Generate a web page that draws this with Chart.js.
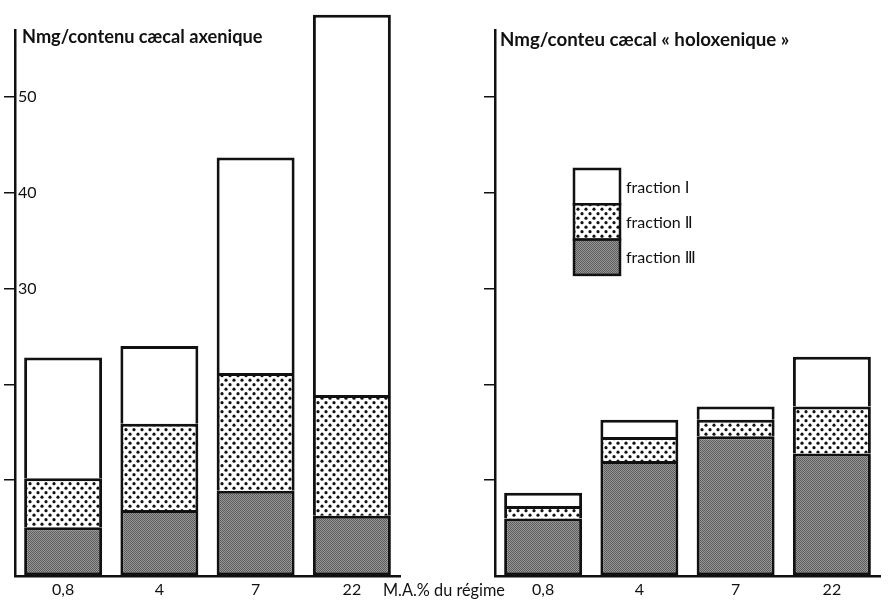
<!DOCTYPE html>
<html>
<head>
<meta charset="utf-8">
<script src="https://cdn.jsdelivr.net/npm/chart.js@4.4.1/dist/chart.umd.min.js"></script>
<style>
  html, body { margin: 0; padding: 0; background: #fff; }
  #wrap { position: relative; width: 889px; height: 601px; }
  canvas { position: absolute; left: 0; top: 0; }
</style>
</head>
<body>
<div id="wrap">
  <canvas id="axenique" width="889" height="601"></canvas>
  <canvas id="holoxenique" width="889" height="601"></canvas>
</div>
<script>
const categories = ['0,8', '4', '7', '22'];
const fractionLabels = ['fraction Ⅰ', 'fraction Ⅱ', 'fraction Ⅲ'];

// Nmg per fraction, axenic caecum (stacked bottom up: III, II, I)
const axeniqueIII = [5.1, 6.9, 8.9, 6.3];
const axeniqueII = [5.1, 9.0, 12.3, 12.6];
const axeniqueI = [12.6, 8.1, 22.5, 39.7];

// Nmg per fraction, holoxenic caecum
const holoxeniqueIII = [6.0, 12.0, 14.6, 12.8];
const holoxeniqueII = [1.3, 2.5, 1.7, 4.9];
const holoxeniqueI = [1.4, 1.8, 1.4, 5.2];

const yTicks = [10, 20, 30, 40, 50];
const yLabels = [30, 40, 50];   // only printed on the left panel

const FONT = 'Lato, "DejaVu Sans", sans-serif';
const INK = '#111';

function dotPattern() {
    const c = document.createElement('canvas');
    c.width = 8; c.height = 9;
    const g = c.getContext('2d');
    g.fillStyle = '#fff';
    g.fillRect(0, 0, 8, 9);
    g.fillStyle = INK;
    [[2, 2.2], [6, 6.7]].forEach(p => {
        g.beginPath();
        g.arc(p[0], p[1], 1.6, 0, Math.PI * 2);
        g.fill();
    });
    return g.createPattern(c, 'repeat');
}

function greyPattern() {
    const c = document.createElement('canvas');
    c.width = 2; c.height = 2;
    const g = c.getContext('2d');
    g.fillStyle = '#969696';
    g.fillRect(0, 0, 2, 2);
    g.fillStyle = '#5e5e5e';
    g.fillRect(0, 0, 1, 1);
    g.fillRect(1, 1, 1, 1);
    return g.createPattern(c, 'repeat');
}

const dots = dotPattern();
const grey = greyPattern();
const fills = ['#fff', dots, grey];   // I, II, III

function makeDatasets(I, II, III) {
    const side = {top: 3, left: 3, right: 3, bottom: 0};
    return [
        {label: fractionLabels[2], data: III, backgroundColor: grey, borderWidth: {top: 3, left: 3, right: 3, bottom: 3}},
        {label: fractionLabels[1], data: II, backgroundColor: dots, borderWidth: side},
        {label: fractionLabels[0], data: I, backgroundColor: '#fff', borderWidth: side}
    ].map(d => Object.assign(d, {
        borderColor: INK,
        borderSkipped: false,
        barPercentage: 0.81,
        categoryPercentage: 1,
        clip: false
    }));
}

// text squeezed/stretched to the width it has in the scan
function fitText(ctx, text, x, y, width, weight) {
    ctx.font = weight + ' 20px ' + FONT;
    const size = 20 * width / ctx.measureText(text).width;
    ctx.font = weight + ' ' + size.toFixed(1) + 'px ' + FONT;
    ctx.fillText(text, x, y);
}

// titles, axis note and legend
const notes = {
    id: 'notes',
    afterDraw(chart, args, o) {
        const ctx = chart.ctx;
        ctx.save();
        ctx.fillStyle = INK;
        ctx.textBaseline = 'alphabetic';
        fitText(ctx, o.title, o.tx, o.ty, o.tw, 'bold');
        if (o.xNote) {
            fitText(ctx, o.xNote, 383, 596, 122, 'normal');
        }
        if (o.legend) {
            const x = 574, y = 169, w = 46, h = 35.3;
            ctx.font = '16px ' + FONT;
            ctx.textBaseline = 'middle';
            fractionLabels.forEach((lab, i) => {
                ctx.fillStyle = fills[i];
                ctx.fillRect(x, y + i * h, w, h);
                ctx.strokeStyle = INK;
                ctx.lineWidth = 2.5;
                ctx.strokeRect(x, y + i * h, w, h);
                ctx.fillStyle = INK;
                ctx.fillText(lab, 626, y + i * h + h / 2 + 1);
            });
        }
        ctx.restore();
    }
};

function makeOptions(left, right, showLabels, noteOpts) {
    return {
        responsive: false,
        animation: false,
        layout: {padding: {top: 30, left: 0, right: 889 - right, bottom: 0}},
        plugins: {
            legend: {display: false},
            tooltip: {enabled: false},
            notes: noteOpts
        },
        scales: {
            x: {
                stacked: true,
                afterFit: s => { s.height = 25; },
                grid: {display: false, drawTicks: false},
                border: {display: true, color: INK, width: 2.5},
                ticks: {color: INK, font: {family: FONT, size: 16}, padding: 4}
            },
            y: {
                stacked: true,
                min: 0,
                max: 57,
                afterFit: s => { s.width = left; },
                border: {display: true, color: INK, width: 2.5},
                grid: {
                    drawOnChartArea: false,
                    drawTicks: true,
                    tickLength: 11,
                    lineWidth: 1.5,
                    color: c => yTicks.includes(c.tick.value) ? INK : 'rgba(0,0,0,0)'
                },
                ticks: {
                    stepSize: 10,
                    includeBounds: false,
                    mirror: true,
                    padding: 3,
                    color: INK,
                    font: {family: FONT, size: 16},
                    callback: v => showLabels && yLabels.includes(v) ? String(v) : ''
                }
            }
        }
    };
}

new Chart(document.getElementById('axenique'), {
    type: 'bar',
    data: {labels: categories, datasets: makeDatasets(axeniqueI, axeniqueII, axeniqueIII)},
    options: makeOptions(15, 400, true, {
        title: 'Nmg/contenu cæcal axenique', tx: 22, ty: 43, tw: 241,
        xNote: 'M.A.% du régime'
    }),
    plugins: [notes]
});

new Chart(document.getElementById('holoxenique'), {
    type: 'bar',
    data: {labels: categories, datasets: makeDatasets(holoxeniqueI, holoxeniqueII, holoxeniqueIII)},
    options: makeOptions(495, 880, false, {
        title: 'Nmg/conteu cæcal « holoxenique »', tx: 500, ty: 46, tw: 289,
        legend: true
    }),
    plugins: [notes]
});
</script>
</body>
</html>
